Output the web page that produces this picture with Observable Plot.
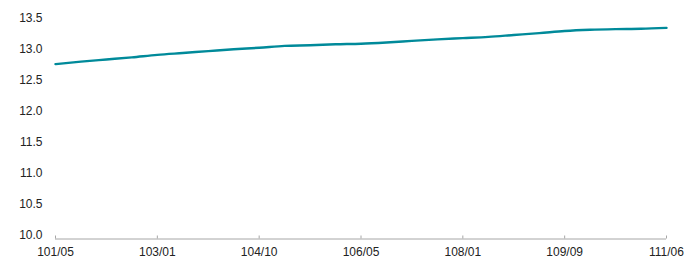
<!DOCTYPE html>
<html>
<head>
<meta charset="utf-8">
<script src="https://cdn.jsdelivr.net/npm/d3@7"></script>
<script src="https://cdn.jsdelivr.net/npm/@observablehq/plot@0.6"></script>
<style>
  html, body { margin: 0; padding: 0; background: #fff; }
  #wrap { position: relative; width: 694px; height: 260px; overflow: hidden; }
  #edge { position: absolute; left: 3px; top: 0; width: 1px; height: 260px; background: #bdbdbd; }
  #chart { position: absolute; left: 0; top: 0; }
</style>
</head>
<body>
<div id="wrap"><div id="edge"></div><div id="chart"></div></div>
<script>
const monthIndex = [0, 5, 10, 15, 20, 25, 30, 35, 40, 45, 50, 55, 60, 65, 70, 75, 80, 85, 90, 95, 100, 105, 110, 115, 120];
const values = [12.82, 12.86, 12.895, 12.93, 12.97, 13.0, 13.03, 13.06, 13.085, 13.115, 13.125, 13.14, 13.15,
                13.17, 13.195, 13.22, 13.24, 13.26, 13.29, 13.32, 13.355, 13.375, 13.385, 13.39, 13.405];
const tickIndex = [0, 20, 40, 60, 80, 100, 120];
const tickLabels = ["101/05", "103/01", "104/10", "106/05", "108/01", "109/09", "111/06"];
const yTicks = [10.0, 10.5, 11.0, 11.5, 12.0, 12.5, 13.0, 13.5];

const data = monthIndex.map((m, i) => ({m, v: values[i]}));

const W = 694, H = 260;
const mT = 21.5, mB = 21.5;
const chart = Plot.plot({
  width: W,
  height: H,
  marginLeft: 55,
  marginRight: 28,
  marginTop: mT,
  marginBottom: mB,
  style: {fontFamily: "'Liberation Sans', Arial, sans-serif", fontSize: "12px", color: "#222", background: "#fff"},
  x: {domain: [0, 120]},
  y: {domain: [10, 13.5]},
  marks: [
    Plot.ruleY([10], {stroke: "#a6a6a6", strokeWidth: 1}),
    Plot.tickX(tickIndex, {x: d => d, stroke: "#a6a6a6", insetTop: (H - mT - mB) - 3}),
    Plot.axisY({ticks: yTicks, tickSize: 0, tickPadding: 13, tickFormat: d => d.toFixed(1), dy: -3.5, fill: "#222", label: null}),
    Plot.axisX({ticks: tickIndex, tickSize: 0, tickPadding: 8, tickFormat: (d, i) => tickLabels[i], fill: "#222", label: null}),
    Plot.line(data, {x: "m", y: "v", stroke: "#008a9a", strokeWidth: 2.4, curve: "monotone-x"})
  ]
});
document.getElementById("chart").appendChild(chart);
</script>
</body>
</html>
